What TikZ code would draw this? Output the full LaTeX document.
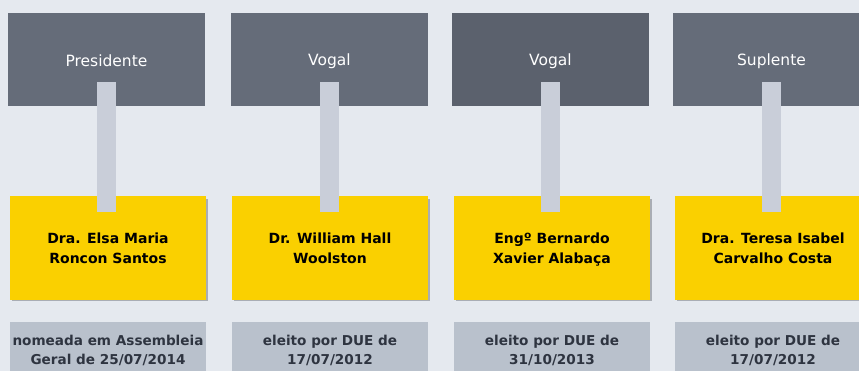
\documentclass[tikz,border=0pt]{standalone}
\usepackage{fontspec}
\setmainfont{DejaVu Sans}
\definecolor{bgc}{HTML}{E5E9EF}
\definecolor{darkc}{HTML}{656C79}
\definecolor{darkerc}{HTML}{5B616D}
\definecolor{yelc}{HTML}{FAD000}
\definecolor{grayc}{HTML}{B9C1CC}
\definecolor{connc}{HTML}{C9CED9}
\definecolor{txtc}{HTML}{2E3440}
\definecolor{shadc}{HTML}{A9ADB4}
\tikzset{
  rolebox/.style={fill=darkc, minimum width=197pt, minimum height=93pt, inner sep=0pt,
    text=white, font=\fontsize{15.5}{18}\selectfont},
  namebox/.style={fill=yelc, minimum width=196pt, minimum height=104pt, inner sep=0pt,
    text=black, align=center, font=\fontsize{14}{20}\selectfont\bfseries},
  nametext/.style={inner sep=0pt, text=black, align=center,
    font=\fontsize{14}{20}\selectfont\bfseries},
  infobox/.style={fill=grayc, minimum width=196pt, minimum height=60pt, inner sep=0pt,
    text=txtc, align=center, font=\fontsize{13.6}{19}\selectfont\bfseries},
  conn/.style={draw=connc, line width=19pt},
  shad/.style={fill=shadc}
}
\begin{document}
\begin{tikzpicture}[x=1pt,y=-1pt]
\path[clip] (0,0) rectangle (859,371);
\fill[bgc] (0,0) rectangle (859,371);
% role boxes
\node[rolebox] (r1) at (106.5,59.5) {};
\node[rolebox] (r2) at (329.5,59.5) {};
\node[rolebox, fill=darkerc] (r3) at (550.5,59.5) {};
\node[rolebox] (r4) at (771.5,59.5) {};
% shadows of name boxes
\foreach \cx in {108,330,552,773}{
  \fill[shad] (\cx-96,199) rectangle (\cx+100,301);
}
% name boxes
\node[namebox] (n1) at (108,248) {};
\node[namebox] (n2) at (330,248) {};
\node[namebox] (n3) at (552,248) {};
\node[namebox] (n4) at (773,248) {};
\node[nametext] (m1) at (108,250) {\strut Dra. Elsa Maria\\\strut Roncon Santos};
\node[nametext] (m2) at (330,250) {\strut Dr. William Hall\\\strut Woolston};
\node[nametext] (m3) at (552,250) {\strut Engº Bernardo\\\strut Xavier Alabaça};
\node[nametext] (m4) at (773,250) {\strut Dra. Teresa Isabel\\\strut Carvalho Costa};
% connectors
\foreach \i in {1,...,4}{
  \draw[conn] ([yshift=24pt]r\i.south) -- ([yshift=-16pt]r\i.south |- n\i.north);
}
% labels of role boxes (on top of connectors)
\node[rolebox, fill=none] (l1) at (106.5,61) {Presidente};
\node[rolebox, fill=none] (l2) at (329.5,61) {Vogal};
\node[rolebox, fill=none] (l3) at (550.5,61) {Vogal};
\node[rolebox, fill=none] (l4) at (771.5,61) {Suplente};
% info boxes
\node[infobox, anchor=north] (i1) at (108,322) {};
\node[infobox, anchor=north] (i2) at (330,322) {};
\node[infobox, anchor=north] (i3) at (552,322) {};
\node[infobox, anchor=north] (i4) at (773,322) {};
\node[infobox, fill=none] (t1) at (108,351.5) {\strut nomeada em Assembleia\\\strut Geral de 25/07/2014};
\node[infobox, fill=none] (t2) at (330,351.5) {\strut eleito por DUE de\\\strut 17/07/2012};
\node[infobox, fill=none] (t3) at (552,351.5) {\strut eleito por DUE de\\\strut 31/10/2013};
\node[infobox, fill=none] (t4) at (773,351.5) {\strut eleito por DUE de\\\strut 17/07/2012};
\end{tikzpicture}
\end{document}
